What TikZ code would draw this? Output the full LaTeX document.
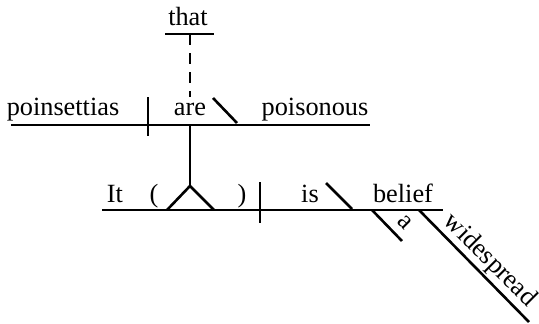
\documentclass[tikz,border=0pt]{standalone}
\usepackage{fontspec}
\setmainfont{Liberation Serif}
\begin{document}
\begin{tikzpicture}[x=1pt,y=-1pt,line width=2.6pt,
  every node/.style={font=\fontsize{26.3}{30}\selectfont,inner sep=0pt},
  word/.style={anchor=base},
  slant/.style={anchor=base,rotate=-45}]
\useasboundingbox (0,0) rectangle (539,324);
% upper clause
\coordinate (thatL) at (165,34);
\coordinate (thatR) at (214,34);
\coordinate (thatM) at (190,34);
\coordinate (dashB) at (190,97);
\coordinate (upL) at (11,125);
\coordinate (upR) at (370,125);
\coordinate (divT) at (148,97);
\coordinate (divB) at (148,136);
\coordinate (areS) at (213,98);
\coordinate (areE) at (237,123);
\coordinate (stemT) at (190,125);
\coordinate (apex) at (190,186);
\coordinate (pedL) at (167,210);
\coordinate (pedR) at (214,210);
% lower clause
\coordinate (loL) at (102,210);
\coordinate (loR) at (443,210);
\coordinate (div2T) at (260,182);
\coordinate (div2B) at (260,223);
\coordinate (isS) at (326,183);
\coordinate (isE) at (352,209);
\coordinate (aS) at (372,210);
\coordinate (aE) at (402,241);
\coordinate (wS) at (419,210);
\coordinate (wE) at (529,322);

\node[word] (that) at (188,26) {that};
\node[word] (poinsettias) at (63,115) {poinsettias};
\node[word] (are) at (190,115) {are};
\node[word] (poisonous) at (315,115) {poisonous};
\node[word] (it) at (115,202) {It};
\node[word] (lp) at (154,202) {(};
\node[word] (rp) at (242,202) {)};
\node[word] (is) at (310,202) {is};
\node[word] (belief) at (403,202) {belief};
\node[slant] (a) at (400.6,226.5) {a};
\node[slant] (widespread) at (485,265) {widespread};

\draw (thatL) -- (thatR);
\draw[dash pattern=on 11pt off 8pt] (thatM) -- (dashB);
\draw (upL) -- (upR);
\draw (divT) -- (divB);
\draw (areS) -- (areE);
\draw (stemT) -- (apex);
\draw[line join=miter] (pedL) -- (apex) -- (pedR);
\draw (loL) -- (loR);
\draw (div2T) -- (div2B);
\draw (isS) -- (isE);
\draw (aS) -- (aE);
\draw (wS) -- (wE);
\end{tikzpicture}
\end{document}
